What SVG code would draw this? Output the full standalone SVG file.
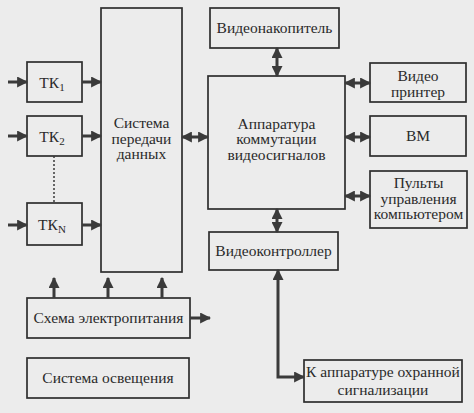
<svg xmlns="http://www.w3.org/2000/svg" width="474" height="413" viewBox="0 0 474 413">
<style>
.box{fill:none;stroke:#2e2e2e;stroke-width:1.7}
.t{font-family:'Liberation Serif','Times New Roman',serif;font-size:15.5px;fill:#2a2a2a;text-anchor:middle}
.c{fill:none;stroke:#3a3a3a;stroke-width:3}
.d{fill:none;stroke:#3a3a3a;stroke-width:1.5;stroke-dasharray:2 2}
</style>
<defs>
<marker id="ah" viewBox="0 0 10 10" refX="9" refY="5" markerWidth="11" markerHeight="11" markerUnits="userSpaceOnUse" orient="auto-start-reverse">
<path d="M0,0 L10,5 L0,10 z" fill="#3a3a3a"/>
</marker>
</defs>
<rect width="474" height="413" fill="#ececec"/>
<g id="tk1"><rect class="box" x="27" y="62" width="55" height="40"/><text class="t" x="52" y="88">ТК<tspan font-size="11" dy="3">1</tspan></text></g>
<g id="tk2"><rect class="box" x="27" y="116" width="55" height="40"/><text class="t" x="52" y="142">ТК<tspan font-size="11" dy="3">2</tspan></text></g>
<g id="tkn"><rect class="box" x="27" y="203" width="55" height="42"/><text class="t" x="52" y="230">ТК<tspan font-size="11" dy="3">N</tspan></text></g>
<g id="spd"><rect class="box" x="101" y="8" width="81" height="264"/><text class="t" x="141.5" y="128">Система</text><text class="t" x="141.5" y="143.5">передачи</text><text class="t" x="141.5" y="159">данных</text></g>
<g id="vn"><rect class="box" x="210" y="8" width="129" height="40"/><text class="t" x="274.5" y="33">Видеонакопитель</text></g>
<g id="akv"><rect class="box" x="208" y="76" width="137" height="133"/><text class="t" x="276.5" y="128.5">Аппаратура</text><text class="t" x="276.5" y="144">коммутации</text><text class="t" x="276.5" y="159.5">видеосигналов</text></g>
<g id="vp"><rect class="box" x="370" y="63" width="96" height="39"/><text class="t" x="418" y="81">Видео</text><text class="t" x="418" y="97">принтер</text></g>
<g id="vm"><rect class="box" x="370" y="116" width="96" height="40"/><text class="t" x="418" y="141">ВМ</text></g>
<g id="pu"><rect class="box" x="370" y="171" width="97" height="57"/><text class="t" x="418.5" y="188">Пульты</text><text class="t" x="418.5" y="203.5">управления</text><text class="t" x="418.5" y="219">компьютером</text></g>
<g id="vk"><rect class="box" x="209" y="232" width="129" height="38"/><text class="t" x="273.5" y="256">Видеоконтроллер</text></g>
<g id="sep"><rect class="box" x="27" y="298" width="163" height="40"/><text class="t" x="108.5" y="323">Схема электропитания</text></g>
<g id="so"><rect class="box" x="27" y="358" width="162" height="40"/><text class="t" x="108" y="383">Система освещения</text></g>
<g id="kaos"><rect class="box" x="304" y="360" width="158" height="42"/><text class="t" x="383" y="377">К аппаратуре охранной</text><text class="t" x="383" y="395">сигнализации</text></g>
<g id="connectors">
<line class="c" x1="8" y1="82" x2="27" y2="82" marker-end="url(#ah)"/>
<line class="c" x1="8" y1="136" x2="27" y2="136" marker-end="url(#ah)"/>
<line class="c" x1="8" y1="225" x2="27" y2="225" marker-end="url(#ah)"/>
<line class="c" x1="82" y1="82" x2="101" y2="82" marker-end="url(#ah)"/>
<line class="c" x1="82" y1="136" x2="101" y2="136" marker-end="url(#ah)"/>
<line class="c" x1="82" y1="225" x2="101" y2="225" marker-end="url(#ah)"/>
<line class="d" x1="54" y1="156" x2="54" y2="203"/>
<line class="c" x1="182" y1="137" x2="208" y2="137" marker-start="url(#ah)" marker-end="url(#ah)"/>
<line class="c" x1="277" y1="48" x2="277" y2="76" marker-start="url(#ah)" marker-end="url(#ah)"/>
<line class="c" x1="345" y1="83" x2="370" y2="83" marker-start="url(#ah)" marker-end="url(#ah)"/>
<line class="c" x1="345" y1="137" x2="370" y2="137" marker-start="url(#ah)" marker-end="url(#ah)"/>
<line class="c" x1="345" y1="196" x2="370" y2="196" marker-start="url(#ah)" marker-end="url(#ah)"/>
<line class="c" x1="277" y1="209" x2="277" y2="232" marker-start="url(#ah)" marker-end="url(#ah)"/>
<polyline class="c" points="278,270 278,377 304,377" marker-start="url(#ah)" marker-end="url(#ah)"/>
<line class="c" x1="54" y1="298" x2="54" y2="278" marker-end="url(#ah)"/>
<line class="c" x1="108" y1="298" x2="108" y2="278" marker-end="url(#ah)"/>
<line class="c" x1="162" y1="298" x2="162" y2="278" marker-end="url(#ah)"/>
<line class="c" x1="190" y1="318" x2="210" y2="318" marker-end="url(#ah)"/>
</g>
</svg>
